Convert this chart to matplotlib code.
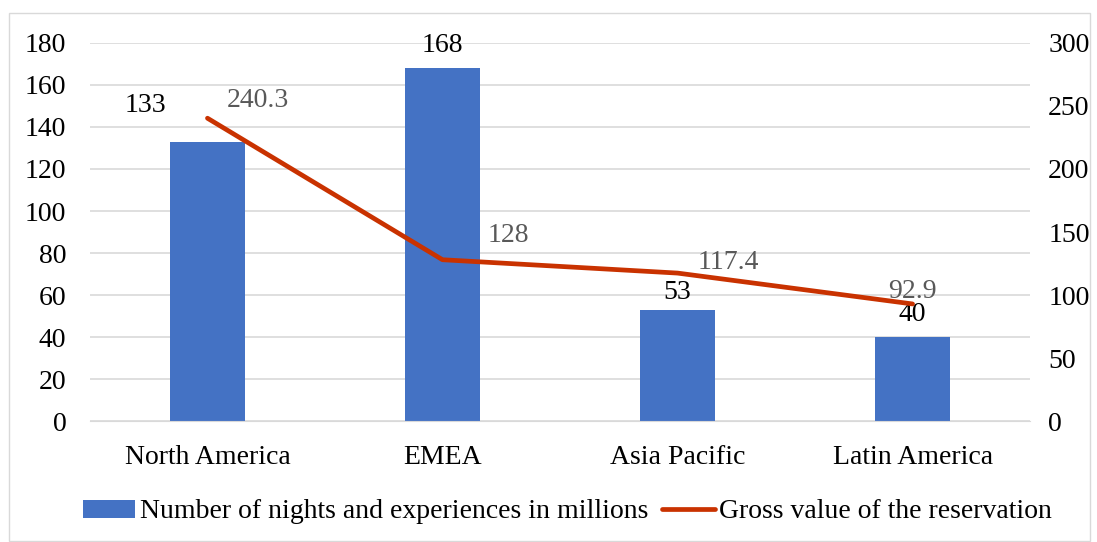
import matplotlib
matplotlib.use("Agg")
import matplotlib.pyplot as plt
import matplotlib.patches as patches
import numpy as np

# data
regions = ["North America", "EMEA", "Asia Pacific", "Latin America"]
nights = [133, 168, 53, 40]
gross = [240.3, 128, 117.4, 92.9]

plt.rcParams['font.family'] = ['Liberation Serif', 'DejaVu Serif']
FS = 20
PX = 0.72  # points per pixel at dpi 100

fig = plt.figure(figsize=(10.97, 5.42), dpi=100)
ax = fig.add_axes([0.082, 0.2232, 0.857, 0.6975])
ax2 = ax.twinx()

x = np.arange(len(regions))
bars = ax.bar(x, nights, width=0.32, color="#4472c4", zorder=2,
              label="Number of nights and experiences in millions")
line, = ax2.plot(x, gross, color="#c93200", lw=3.4, zorder=3,
                 solid_capstyle="round", label="Gross value of the reservation")

ax.set_xlim(-0.5, len(regions) - 0.5)
ax.set_ylim(0, 180)
ax.set_yticks(range(0, 181, 20))
ax2.set_ylim(0, 300)
ax2.set_yticks(range(0, 301, 50))
ax.set_xticks(x)
ax.set_xticklabels(regions)

ax.yaxis.grid(True, color="#d9d9d9", lw=1.2, zorder=0)
ax.set_axisbelow(True)
for a in (ax, ax2):
    for s in a.spines.values():
        s.set_visible(False)
    a.tick_params(length=0, labelsize=FS, colors="black")
ax.spines['bottom'].set_visible(True)
ax.spines['bottom'].set_color("#d9d9d9")
ax.tick_params(axis='x', pad=17)
ax.tick_params(axis='y', pad=17)
ax2.tick_params(axis='y', pad=13)

# label offsets in pixels (dx, dy up), placed by hand like the reference
bar_off = [(-62, 36), (0, 23), (0, 17), (0, 23)]
for i, v in enumerate(nights):
    dx, dy = bar_off[i]
    ax.annotate(str(v), (x[i], v), xytext=(dx * PX, dy * PX), textcoords="offset points",
                ha="center", va="center", fontsize=FS, color="black", zorder=5)
line_off = [(50, 18), (66, 24), (51, 11), (0, 12)]
for i, v in enumerate(gross):
    dx, dy = line_off[i]
    ax2.annotate(f"{v:g}", (x[i], v), xytext=(dx * PX, dy * PX), textcoords="offset points",
                 ha="center", va="center", fontsize=FS, color="#595959", zorder=1)

fig.legend(handles=[bars, line], loc="center", bbox_to_anchor=(0.517, 0.0554),
           ncol=2, frameon=False, fontsize=FS, handlelength=1.9,
           handletextpad=0.15, columnspacing=0.5, handleheight=0.6)

fig.patches.append(patches.Rectangle((9 / 1097, 1 / 542), 1081 / 1097, 528 / 542,
                                     transform=fig.transFigure, fill=False,
                                     edgecolor="#d9d9d9", lw=1))

fig.savefig("out.png", dpi=100)
